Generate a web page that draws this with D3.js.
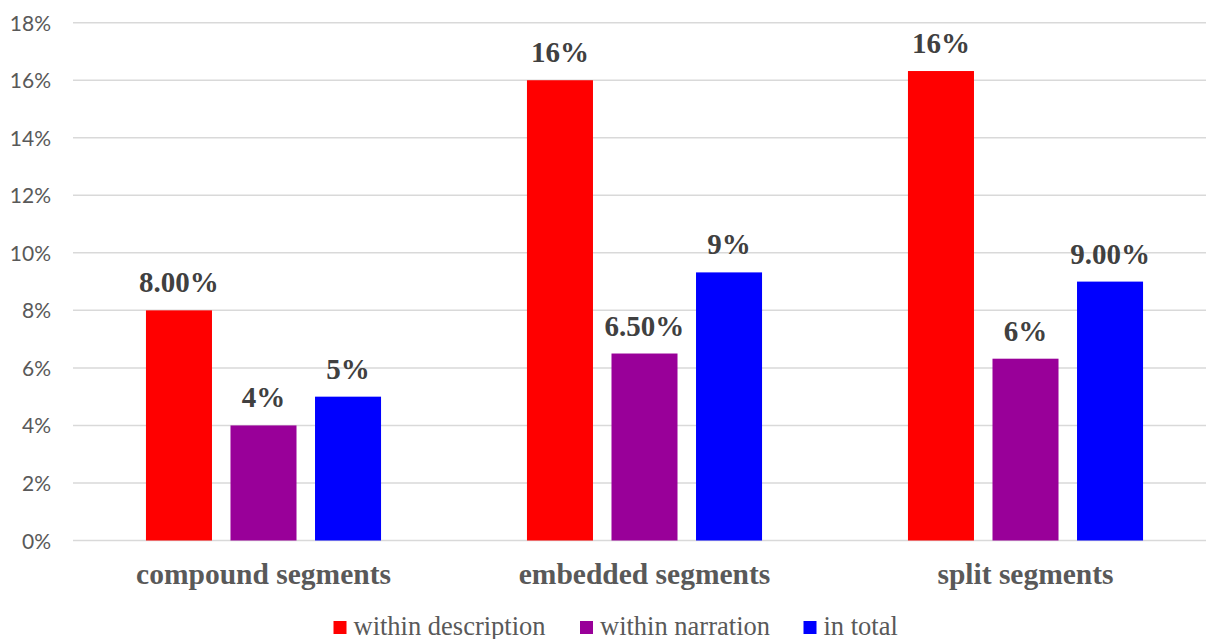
<!DOCTYPE html>
<html>
<head>
<meta charset="utf-8">
<script src="https://cdn.jsdelivr.net/npm/d3@7"></script>
<style>
  html, body { margin: 0; padding: 0; background: #fff; }
  svg { display: block; }
</style>
</head>
<body>
<svg id="chart" width="1206" height="639"></svg>
<script>
// Segment categories along the x axis
const categories = ["compound segments", "embedded segments", "split segments"];

// Series names and colours
const seriesNames = ["within description", "within narration", "in total"];
const seriesColors = ["#ff0000", "#990099", "#0000ff"];

// Share per category, one array per series
const withinDescription = [0.08, 0.16, 0.1632];
const withinNarration = [0.04, 0.065, 0.0632];
const inTotal = [0.05, 0.0932, 0.09];

// Decimal places shown on each value label (by series, then category)
const labelDecimals = [
  [2, 0, 0],
  [0, 2, 0],
  [0, 0, 2]
];

// Y axis ticks
const yTicks = [0, 0.02, 0.04, 0.06, 0.08, 0.10, 0.12, 0.14, 0.16, 0.18];

const seriesValues = [withinDescription, withinNarration, inTotal];

const svg = d3.select("#chart");
const W = 1206, H = 639;
const plot = { left: 73, right: 1216, top: 22.7, bottom: 540.5 };
const serif = "'Liberation Serif', 'Times New Roman', serif";

const x0 = d3.scaleBand()
  .domain(categories)
  .range([plot.left, plot.right])
  .paddingInner(0.383)
  .paddingOuter(0.1915);

const x1 = d3.scaleBand()
  .domain(d3.range(seriesNames.length))
  .range([0, x0.bandwidth()])
  .paddingInner(0.219)
  .paddingOuter(0);

const y = d3.scaleLinear().domain([0, 0.18]).range([plot.bottom, plot.top]);

// Horizontal gridlines
svg.append("g")
  .selectAll("line")
  .data(yTicks)
  .join("line")
  .attr("x1", plot.left)
  .attr("x2", W)
  .attr("y1", d => y(d))
  .attr("y2", d => y(d))
  .attr("stroke", "#d9d9d9")
  .attr("stroke-width", 1.5);

// Y axis labels
const yAxis = d3.axisLeft(y)
  .tickValues(yTicks)
  .tickFormat(d3.format(".0%"))
  .tickSize(0)
  .tickPadding(0);

const yAxisG = svg.append("g")
  .attr("transform", `translate(51,0)`)
  .call(yAxis);
yAxisG.select(".domain").remove();
yAxisG.selectAll("text")
  .attr("font-family", "Lato, 'Open Sans', sans-serif")
  .attr("font-size", 21)
  .attr("fill", "#595959")
  .attr("dy", "0.36em");

// Bars
const groups = svg.append("g")
  .selectAll("g")
  .data(categories)
  .join("g")
  .attr("transform", d => `translate(${x0(d)},0)`);

const cells = groups.selectAll("g.cell")
  .data((c, ci) => seriesValues.map((vals, si) => ({ ci, si, v: vals[ci] })))
  .join("g")
  .attr("class", "cell");

cells.append("rect")
  .attr("x", d => x1(d.si))
  .attr("width", x1.bandwidth())
  .attr("y", d => y(d.v))
  .attr("height", d => y(0) - y(d.v))
  .attr("fill", d => seriesColors[d.si]);

// Value labels above bars
cells.append("text")
  .attr("x", d => x1(d.si) + x1.bandwidth() / 2)
  .attr("y", d => y(d.v) - 18)
  .attr("text-anchor", "middle")
  .attr("font-family", serif)
  .attr("font-weight", "bold")
  .attr("font-size", 29)
  .attr("fill", "#404040")
  .text(d => d3.format(`.${labelDecimals[d.si][d.ci]}%`)(d.v));

// Category labels
const xAxis = d3.axisBottom(x0).tickSize(0).tickPadding(0);
const xAxisG = svg.append("g")
  .attr("transform", `translate(0,584)`)
  .call(xAxis);
xAxisG.select(".domain").remove();
xAxisG.selectAll("text")
  .attr("dy", 0)
  .attr("font-family", serif)
  .attr("font-weight", "bold")
  .attr("font-size", 29.5)
  .attr("fill", "#595959");

// Legend
const legendX = [333.5, 580, 803.5];
const legend = svg.append("g")
  .selectAll("g")
  .data(seriesNames)
  .join("g")
  .attr("transform", (d, i) => `translate(${legendX[i]},0)`);

legend.append("rect")
  .attr("x", 0)
  .attr("y", 621)
  .attr("width", 13)
  .attr("height", 13)
  .attr("fill", (d, i) => seriesColors[i]);

legend.append("text")
  .attr("x", 20)
  .attr("y", 634.5)
  .attr("font-family", serif)
  .attr("font-size", 26.5)
  .attr("fill", "#595959")
  .text(d => d);
</script>
</body>
</html>
